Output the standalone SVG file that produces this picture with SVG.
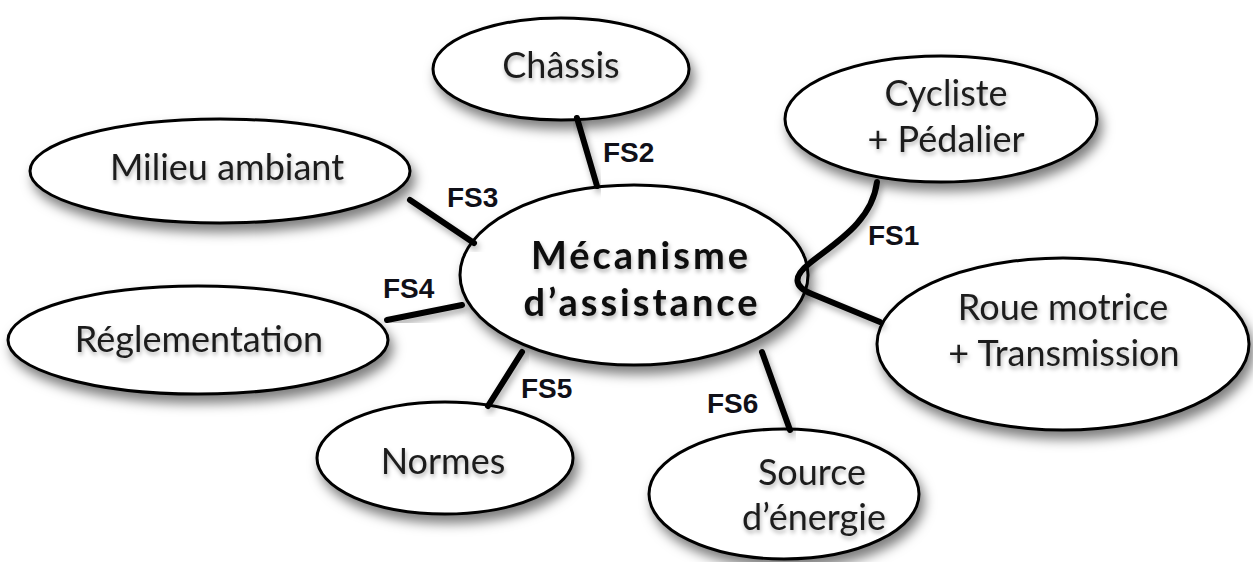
<svg xmlns="http://www.w3.org/2000/svg" width="1253" height="562" viewBox="0 0 1253 562">
<defs>
<filter id="sh" x="-20%" y="-25%" width="140%" height="160%">
<feDropShadow dx="4" dy="8" stdDeviation="6" flood-color="#000" flood-opacity="0.5"/>
</filter>
<filter id="tsh" x="-10%" y="-30%" width="120%" height="170%">
<feDropShadow dx="1" dy="3" stdDeviation="2" flood-color="#000" flood-opacity="0.3"/>
</filter>
<filter id="lsh" x="-20%" y="-20%" width="140%" height="140%">
<feDropShadow dx="2" dy="4" stdDeviation="3" flood-color="#000" flood-opacity="0.35"/>
</filter>
<style>
.node ellipse{fill:#fff;stroke:#000;stroke-width:3;filter:url(#sh)}
.node text{font-family:Lato,"Liberation Sans",sans-serif;font-size:36px;fill:#1e1e1e;text-anchor:middle;filter:url(#tsh)}
.main text{font-weight:bold;font-size:38px;letter-spacing:3px;fill:#111}
.conn path{fill:none;stroke:#000;stroke-width:6;stroke-linecap:round;stroke-linejoin:round;filter:url(#lsh)}
.lab{font-family:"Liberation Sans",Arial,sans-serif;font-weight:bold;font-size:28px;fill:#101018}
</style>
</defs>
<rect width="1253" height="562" fill="#fff"/>
<g id="n-chassis" class="node"><ellipse cx="561" cy="69" rx="128" ry="51"/><text x="561" y="78">Châssis</text></g>
<g id="n-cycliste" class="node"><ellipse cx="941" cy="119" rx="156" ry="63"/><text x="946" y="106">Cycliste</text><text x="946" y="152">+ Pédalier</text></g>
<g id="n-milieu" class="node"><ellipse cx="220" cy="171" rx="190" ry="52"/><text x="227" y="180">Milieu ambiant</text></g>
<g id="n-reglementation" class="node"><ellipse cx="198" cy="340" rx="190" ry="54"/><text x="199" y="352">Réglementation</text></g>
<g id="n-normes" class="node"><ellipse cx="445" cy="458" rx="128" ry="56"/><text x="443" y="474">Normes</text></g>
<g id="n-source" class="node"><ellipse cx="784" cy="494" rx="135" ry="65"/><text x="812" y="485">Source</text><text x="814" y="530">d’énergie</text></g>
<g id="n-roue" class="node"><ellipse cx="1063" cy="344" rx="186" ry="86"/><text x="1063" y="320">Roue motrice</text><text x="1064" y="366">+ Transmission</text></g>
<g id="n-main" class="node main"><ellipse cx="634" cy="275" rx="174" ry="90"/><text x="641" y="269">Mécanisme</text><text x="642" y="316">d’assistance</text></g>
<g id="connectors" class="conn">
<path d="M577,118 L597,186"/>
<path d="M410,200 L474,243"/>
<path d="M387,320 L462,305"/>
<path d="M488,406 L522,352"/>
<path d="M762,352 L790,430"/>
<path d="M877,182 C872,222 835,243 810,263 Q784,283 812,294 L880,322"/>
</g>
<g id="labels">
<text class="lab" x="603" y="162">FS2</text>
<text class="lab" x="447" y="207">FS3</text>
<text class="lab" x="383" y="298">FS4</text>
<text class="lab" x="521" y="398">FS5</text>
<text class="lab" x="707" y="413">FS6</text>
<text class="lab" x="868" y="245">FS1</text>
</g>
</svg>
